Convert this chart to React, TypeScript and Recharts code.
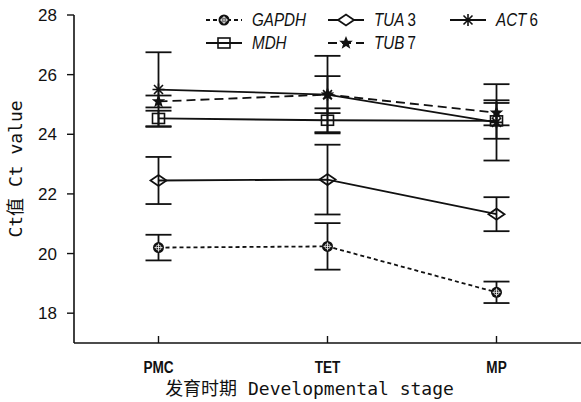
import { LineChart, Line, XAxis, YAxis, ErrorBar } from "recharts";

const stages = ["PMC", "TET", "MP"];
const gapdh = [20.2, 20.24, 18.7];
const gapdhErr = [0.43, 0.78, 0.36];
const tua3 = [22.45, 22.48, 21.32];
const tua3Err = [0.79, 1.17, 0.57];
const act6 = [25.5, 25.33, 24.4];
const act6Err = [1.25, 1.3, 1.28];
const mdh = [24.53, 24.47, 24.45];
const mdhErr = [0.26, 0.4, 0.6];
const tub7 = [25.1, 25.33, 24.72];
const tub7Err = [0.2, 0.62, 0.42];
const yTicks = [18, 20, 22, 24, 26, 28];

const data = stages.map((stage, i) => ({
  stage,
  gapdh: gapdh[i],
  gapdhErr: gapdhErr[i],
  tua3: tua3[i],
  tua3Err: tua3Err[i],
  act6: act6[i],
  act6Err: act6Err[i],
  mdh: mdh[i],
  mdhErr: mdhErr[i],
  tub7: tub7[i],
  tub7Err: tub7Err[i],
}));

const INK = "#111";
const TICK_FONT = "'Liberation Sans', Arial, sans-serif";
const LABEL_FONT = "'DejaVu Sans Mono', 'Noto Sans CJK SC', monospace";
const NARROW = 0.8; // the original uses a condensed face

// marker shapes, drawn around 0,0
const hatchCircle = (
  <g>
    <circle r={5.5} fill={INK} />
    <path d="M-4 0H4M0 -4V4" stroke="#fff" strokeWidth={0.8} />
    <circle r={2.6} fill="none" stroke="#fff" strokeWidth={0.7} />
  </g>
);
const diamond = (
  <path d="M-8 0L0 -5.5L8 0L0 5.5Z" fill="none" stroke={INK} strokeWidth={1.8} />
);
const square = (
  <rect x={-6} y={-5} width={12} height={10} fill="none" stroke={INK} strokeWidth={1.6} />
);
const star = (
  <path
    d="M0 -7L1.9 -2.3L6.8 -2.2L2.9 0.9L4.3 5.7L0 2.9L-4.3 5.7L-2.9 0.9L-6.8 -2.2L-1.9 -2.3Z"
    fill={INK}
  />
);
const asterisk = (
  <path d="M-6 0H6M0 -6V6M-4.5 -4.5L4.5 4.5M-4.5 4.5L4.5 -4.5" stroke={INK} strokeWidth={1.6} />
);

const makeDot = (shape: JSX.Element) => (p: any) => {
  if (p.cx == null || p.cy == null) return <g key={`e-${p.index}`} />;
  return (
    <g key={`d-${p.index}`} transform={`translate(${p.cx},${p.cy})`}>
      {shape}
    </g>
  );
};

const series = [
  { key: "gapdh", name: "GAPDH", num: "", dash: "4 3", shape: hatchCircle },
  { key: "tua3", name: "TUA", num: "3", dash: undefined, shape: diamond },
  { key: "act6", name: "ACT", num: "6", dash: undefined, shape: asterisk },
  { key: "mdh", name: "MDH", num: "", dash: undefined, shape: square },
  { key: "tub7", name: "TUB", num: "7", dash: "9 5", shape: star },
];

// legend slots: [row, column]
const legendSlots = [
  [0, 0],
  [0, 1],
  [0, 2],
  [1, 0],
  [1, 1],
];

const LegendOverlay = () => (
  <svg
    width={581}
    height={60}
    style={{ position: "absolute", left: 0, top: 0, pointerEvents: "none" }}
  >
    {series.map((s, i) => {
      const [row, col] = legendSlots[i];
      const x0 = 206 + col * 122;
      const y = 20 + row * 23;
      return (
        <g key={s.key}>
          <line
            x1={x0}
            x2={x0 + 36}
            y1={y}
            y2={y}
            stroke={INK}
            strokeWidth={1.8}
            strokeDasharray={s.dash}
          />
          <g transform={`translate(${x0 + 18},${y})`}>
            {s.key === "tua3" ? (
              <path d="M-8 0L0 -5.5L8 0L0 5.5Z" fill="#fff" stroke={INK} strokeWidth={1.8} />
            ) : (
              s.shape
            )}
          </g>
          <g transform={`translate(${x0 + 46},${y + 6}) scale(${NARROW},1)`}>
            <text x={0} y={0} fontFamily={TICK_FONT} fontSize={19} fill={INK}>
              <tspan fontStyle="italic">{s.name}</tspan>
              {s.num ? <tspan dx={4}>{s.num}</tspan> : null}
            </text>
          </g>
        </g>
      );
    })}
  </svg>
);

const StageTick = (p: any) => (
  <g transform={`translate(${p.x},${p.y}) scale(${NARROW},1)`}>
    <text
      x={0}
      y={0}
      dy={11}
      textAnchor="middle"
      fontFamily={TICK_FONT}
      fontSize={17}
      fontWeight="bold"
      fill={INK}
    >
      {p.payload.value}
    </text>
  </g>
);

export default function App() {
  return (
    <div style={{ position: "absolute", left: 0, top: 0, width: 581, height: 402, background: "#fff" }}>
      <LineChart
        width={581}
        height={402}
        data={data}
        margin={{ top: 15, right: 0, bottom: 0, left: 0 }}
      >
        <XAxis
          dataKey="stage"
          height={59}
          padding={{ left: 84.5, right: 84.5 }}
          axisLine={{ stroke: INK, strokeWidth: 1.6 }}
          tickLine={{ stroke: INK, strokeWidth: 1.4 }}
          tickSize={-7}
          tickMargin={26}
          tick={<StageTick />}
          label={(props: any) => {
            const vb = props.viewBox;
            return (
              <text
                x={vb.x + vb.width / 2 - 18}
                y={vb.y + 52}
                textAnchor="middle"
                fontFamily={LABEL_FONT}
                fontSize={18}
                fill={INK}
              >
                发育时期 Developmental stage
              </text>
            );
          }}
        />
        <YAxis
          width={74}
          domain={[17, 28]}
          ticks={yTicks}
          allowDataOverflow
          axisLine={{ stroke: INK, strokeWidth: 1.6 }}
          tickLine={{ stroke: INK, strokeWidth: 1.4 }}
          tickSize={7}
          tickMargin={10}
          tick={{ fill: INK, fontFamily: TICK_FONT, fontSize: 17 }}
          label={(props: any) => {
            const vb = props.viewBox;
            const cx = 15;
            const cy = vb.y + vb.height / 2 - 10;
            return (
              <text
                x={cx}
                y={cy}
                transform={`rotate(-90 ${cx} ${cy})`}
                textAnchor="middle"
                dominantBaseline="central"
                fontFamily={LABEL_FONT}
                fontSize={18}
                fill={INK}
              >
                Ct值 Ct value
              </text>
            );
          }}
        />
        {series.map((s) => (
          <Line
            key={s.key}
            type="linear"
            dataKey={s.key}
            stroke={INK}
            strokeWidth={1.8}
            strokeDasharray={s.dash}
            dot={makeDot(s.shape)}
            activeDot={false}
            isAnimationActive={false}
          >
            <ErrorBar
              dataKey={`${s.key}Err`}
              direction="y"
              width={13}
              stroke={INK}
              strokeWidth={1.8}
            />
          </Line>
        ))}
      </LineChart>
      <LegendOverlay />
    </div>
  );
}
